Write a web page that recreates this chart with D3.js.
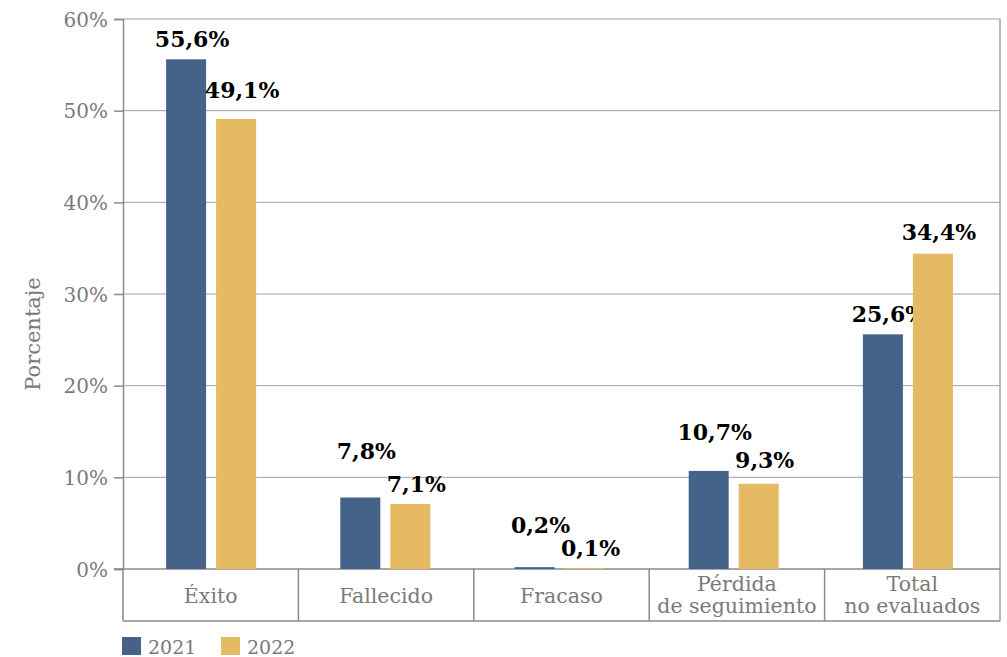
<!DOCTYPE html>
<html lang="es">
  <head>
    <meta charset="UTF-8">
    <title>Resultados 2021 - 2022</title>
    <script src="https://cdn.jsdelivr.net/npm/d3@7"></script>
    <style>
      body { margin: 0; background: #fff; }
      text { font-family: "DejaVu Serif", serif; }
    </style>
  </head>
  <body>
    <svg id="chart" width="1007" height="657"></svg>
    <script>
      var categories = ["Éxito", "Fallecido", "Fracaso", "Pérdida\nde seguimiento", "Total\nno evaluados"];
      var years = ["2021", "2022"];
      var values2021 = [55.6, 7.8, 0.2, 10.7, 25.6];
      var values2022 = [49.1, 7.1, 0.1, 9.3, 34.4];
      var yTicks = [0, 10, 20, 30, 40, 50, 60];
      var colors = ["#456389", "#e6ba62"];
      // extra lift of value labels so they don't collide
      var lift2021 = [0, 27, 22, 19, 0];
      var lift2022 = [9, 0, 0, 4, 2];

      var plotL = 123, plotR = 1000, plotT = 19, plotB = 569, boxB = 621;
      var svg = d3.select("#chart");

      var x = d3.scaleBand().domain(categories).range([plotL, plotR]);
      // bars sit a little left of the box centres in the original
      var xBar = d3.scaleBand().domain(categories).range([124, 995]);
      var y = d3.scaleLinear().domain([0, 60]).range([plotB, plotT]);
      var fmt = function (v) { return v.toFixed(1).replace(".", ",") + "%"; };

      // grid
      svg.append("g").selectAll("line").data(yTicks.slice(1)).enter().append("line")
        .attr("x1", plotL).attr("x2", plotR)
        .attr("y1", function (d) { return y(d); })
        .attr("y2", function (d) { return y(d); })
        .attr("stroke", "#a0a0a0").attr("stroke-width", 1);

      // y axis
      var yAxis = svg.append("g").attr("transform", "translate(" + plotL + ",0)")
        .call(d3.axisLeft(y).tickValues(yTicks).tickSize(9).tickPadding(6)
          .tickFormat(function (d) { return d + "%"; }));
      yAxis.select(".domain").attr("stroke", "#8a8a8a").attr("stroke-width", 1.5);
      yAxis.selectAll(".tick line").attr("stroke", "#8a8a8a").attr("stroke-width", 1.5);
      yAxis.selectAll(".tick text").attr("fill", "#7a7a7a").style("font-size", "20px")
        .attr("dy", "0.36em").style("font-family", "DejaVu Serif");

      svg.append("text")
        .attr("transform", "translate(40,334) rotate(-90)")
        .attr("text-anchor", "middle").attr("fill", "#7a7a7a").style("font-size", "21px")
        .text("Porcentaje");

      // right border
      svg.append("line").attr("x1", plotR).attr("x2", plotR).attr("y1", plotT).attr("y2", boxB)
        .attr("stroke", "#a0a0a0").attr("stroke-width", 1.5);

      // category box below axis
      var box = svg.append("g");
      box.append("line").attr("x1", plotL - 9).attr("x2", plotR).attr("y1", plotB).attr("y2", plotB)
        .attr("stroke", "#8a8a8a").attr("stroke-width", 1.5);
      box.append("line").attr("x1", plotL).attr("x2", plotR).attr("y1", boxB).attr("y2", boxB)
        .attr("stroke", "#8a8a8a").attr("stroke-width", 1.5);
      box.selectAll(".sep").data(categories).enter().append("line").attr("class", "sep")
        .attr("x1", function (d) { return x(d); }).attr("x2", function (d) { return x(d); })
        .attr("y1", plotB).attr("y2", boxB)
        .attr("stroke", "#8a8a8a").attr("stroke-width", 1.5);

      box.selectAll(".cat").data(categories).enter().append("text").attr("class", "cat")
        .attr("text-anchor", "middle").attr("fill", "#7a7a7a").style("font-size", "20.5px")
        .each(function (d) {
          var lines = d.split("\n");
          var t = d3.select(this);
          var cx = x(d) + x.bandwidth() / 2;
          var y0 = lines.length == 1 ? 603 : 591;
          lines.forEach(function (l, i) {
            t.append("tspan").attr("x", cx).attr("y", y0 + i * 22).text(l);
          });
        });

      // bars
      var barW = 40, gap = 10;
      var series = [values2021, values2022];
      var lifts = [lift2021, lift2022];
      series.forEach(function (vals, s) {
        var bx = function (i) { return xBar(categories[i]) + xBar.bandwidth() / 2 - barW - gap / 2 + s * (barW + gap); };
        svg.append("g").selectAll("rect").data(vals).enter().append("rect")
          .attr("x", function (d, i) { return bx(i); })
          .attr("y", function (d) { return y(d); })
          .attr("width", barW)
          .attr("height", function (d) { return plotB - y(d); })
          .attr("fill", colors[s]);
        svg.append("g").selectAll("text").data(vals).enter().append("text")
          .attr("x", function (d, i) { return bx(i) + barW / 2 + 6; })
          .attr("y", function (d, i) { return y(d) - 12 - lifts[s][i]; })
          .attr("text-anchor", "middle").attr("fill", "#000")
          .style("font-size", "22px").style("font-weight", "bold")
          .text(function (d) { return fmt(d); });
      });

      // legend
      var lg = svg.append("g").selectAll("g").data(years).enter().append("g")
        .attr("transform", function (d, i) { return "translate(" + (122 + i * 99) + ",637)"; });
      lg.append("rect").attr("width", 19).attr("height", 18).attr("fill", function (d, i) { return colors[i]; });
      lg.append("text").attr("x", 26).attr("y", 17).attr("fill", "#7a7a7a").style("font-size", "19px")
        .text(function (d) { return d; });
    </script>
  </body>
</html>
